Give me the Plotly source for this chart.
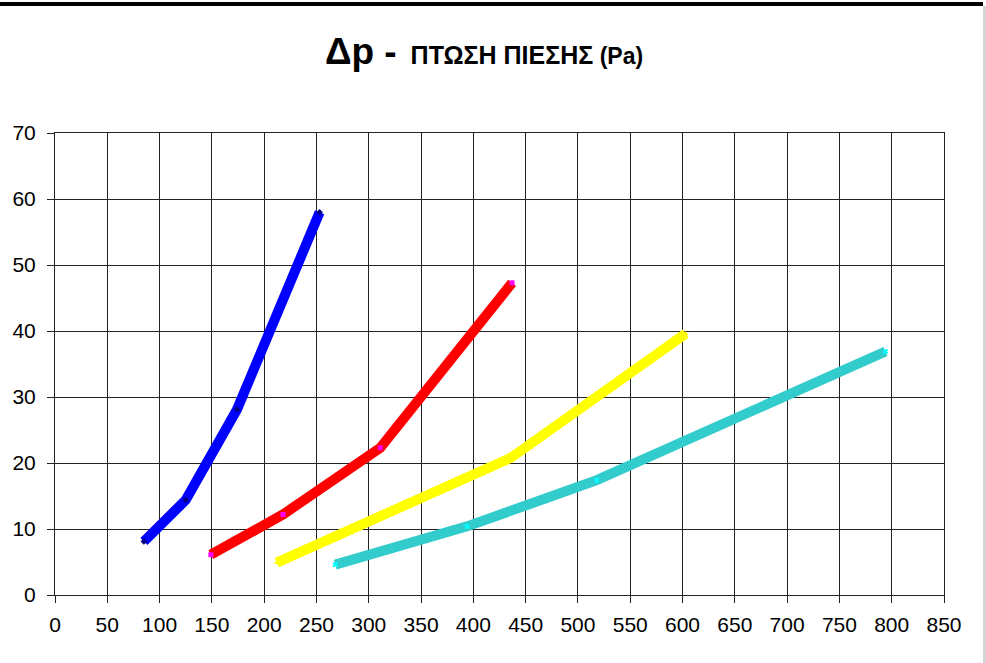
import plotly.graph_objects as go

# Data
x_ticks = list(range(0, 851, 50))
y_ticks = list(range(0, 71, 10))

blue_x = [85, 125, 174, 253]
blue_y = [8.1, 14.4, 28.1, 58.0]

red_x = [149, 218, 311, 437]
red_y = [6.1, 12.2, 22.3, 47.3]

yellow_x = [212, 436, 603]
yellow_y = [4.9, 20.8, 39.6]

cyan_x = [268, 394, 518, 794]
cyan_y = [4.6, 10.4, 17.4, 36.9]

series = [
    (blue_x, blue_y, "#0000FF", "#000080", "diamond"),
    (red_x, red_y, "#FF0000", "#FF00FF", "square"),
    (yellow_x, yellow_y, "#FFFF00", "#FFFF00", "triangle-up"),
    (cyan_x, cyan_y, "#33CCCC", "#00FFFF", "x"),
]

fig = go.Figure()
for xs, ys, lc, mc, sym in series:
    fig.add_trace(go.Scatter(
        x=xs, y=ys, mode="lines+markers",
        line=dict(color=lc, width=10),
        marker=dict(color=mc, symbol=sym, size=5),
        showlegend=False, hoverinfo="skip",
    ))

base_font = "Liberation Sans, Arial, sans-serif"

title_text = (
    "<b><span style='font-size:37px'>Δp -</span>"
    "<span style='font-size:25px'>  </span>"
    "<span style='font-size:25px'>ΠΤΩΣΗ ΠΙΕΣΗΣ</span>"
    "<span style='font-size:23px'> (Pa)</span></b>"
)

fig.update_layout(
    width=986, height=663,
    margin=dict(l=55, r=42, t=133, b=68),
    paper_bgcolor="white", plot_bgcolor="white",
    font=dict(family=base_font, color="black", size=21),
    title=dict(text=title_text, x=484 / 986, xanchor="center", xref="container",
               y=1 - 54 / 663, yanchor="middle", yref="container",
               font=dict(family=base_font, color="black")),
    xaxis=dict(range=[0, 850], tickvals=x_ticks, ticktext=[str(v) for v in x_ticks],
               showgrid=True, gridcolor="#222222", gridwidth=1,
               ticks="outside", ticklen=7, tickcolor="#222222", tickwidth=1,
               showline=True, linecolor="#222222", linewidth=1, mirror=True,
               zeroline=False, ticklabelstandoff=4,
               tickfont=dict(size=21, family=base_font, color="black")),
    yaxis=dict(range=[0, 70], tickvals=y_ticks, ticktext=[str(v) for v in y_ticks],
               showgrid=True, gridcolor="#222222", gridwidth=1,
               ticks="outside", ticklen=7, tickcolor="#222222", tickwidth=1,
               showline=True, linecolor="#222222", linewidth=1, mirror=True,
               zeroline=False, ticklabelstandoff=7,
               tickfont=dict(size=21, family=base_font, color="black")),
)

# Outer frame fragments (top black border, right grey edge)
fig.add_shape(type="line", xref="paper", yref="paper",
              x0=-0.07, x1=(983 - 55) / 889, y0=(595 - 4) / 462, y1=(595 - 4) / 462,
              line=dict(color="black", width=4))
fig.add_shape(type="line", xref="paper", yref="paper",
              x0=(984.5 - 55) / 889, x1=(984.5 - 55) / 889,
              y0=(595 - 663) / 462, y1=(595 - 6) / 462,
              line=dict(color="#D4D4D4", width=3))

fig.write_html("out.html", config={"displayModeBar": False},
               post_script="document.body.style.margin='0';")
